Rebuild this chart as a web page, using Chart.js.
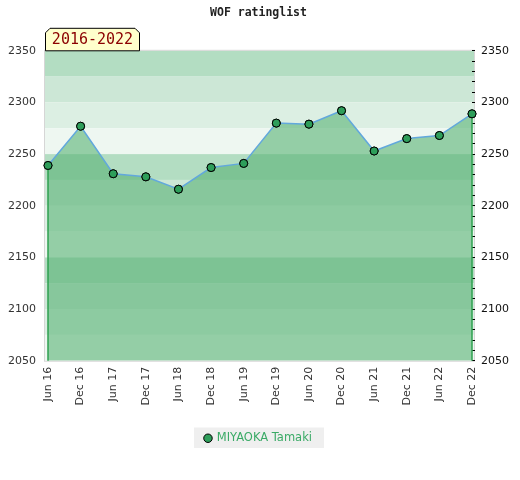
<!DOCTYPE html>
<html>
<head>
<meta charset="utf-8">
<script src="https://cdn.jsdelivr.net/npm/chart.js@4"></script>
<style>
  html, body { margin: 0; padding: 0; background: #fff; }
  #wrap { width: 520px; height: 480px; }
</style>
</head>
<body>
<div id="wrap"><canvas id="ratingChart" width="520" height="480"></canvas></div>
<script>
// data
var periods = ['Jun 16','Dec 16','Jun 17','Dec 17','Jun 18','Dec 18','Jun 19',
               'Dec 19','Jun 20','Dec 20','Jun 21','Dec 21','Jun 22','Dec 22'];
var ratings = [2239, 2277, 2231, 2228, 2216, 2237, 2241,
               2280, 2279, 2292, 2253, 2265, 2268, 2289];
var playerName = 'MIYAOKA Tamaki';
var rangeLabel = '2016-2022';
var yMin = 2050, yMax = 2350, yStep = 50, bandStep = 25;

var bandColors = ['#b3ddc2', '#cce7d6', '#dcefe3', '#eef7f1'];

// background bands, edge lines, legend box and period tag
var decor = {
  id: 'decor',
  beforeDraw: function(chart) {
    var c = chart.ctx, a = chart.chartArea, y = chart.scales.y;
    var l = a.left - 3, r = a.right + 2;
    c.save();
    var i = 0;
    for (var v = yMax; v > yMin; v -= bandStep) {
      var top = y.getPixelForValue(v), bot = y.getPixelForValue(v - bandStep);
      c.fillStyle = bandColors[i % 4];
      c.fillRect(l, top, r - l, bot - top);
      i++;
    }
    c.strokeStyle = '#d6d6d6';
    c.lineWidth = 1;
    c.strokeRect(l - 0.5, a.top - 0.5, r - l + 1, a.bottom - a.top + 1);

    // legend background
    var lg = chart.legend;
    if (lg && lg.legendHitBoxes && lg.legendHitBoxes.length) {
      var hb = lg.legendHitBoxes[0];
      c.fillStyle = '#efefef';
      c.fillRect(hb.left - 11, hb.top - 5, hb.width + 23, hb.height + 9);
    }
    c.restore();
  },
  afterDatasetsDraw: function(chart) {
    var c = chart.ctx, a = chart.chartArea;
    var pts = chart.getDatasetMeta(0).data;
    c.save();
    c.strokeStyle = '#2ea04f';
    c.lineWidth = 1.5;
    [pts[0], pts[pts.length - 1]].forEach(function(p) {
      c.beginPath();
      c.moveTo(p.x, p.y + 4);
      c.lineTo(p.x, a.bottom);
      c.stroke();
    });
    pts.forEach(function(p) { p.draw(c, a); });
    c.restore();
  },
  afterDraw: function(chart) {
    var c = chart.ctx, a = chart.chartArea;
    var x0 = a.left - 3, x1 = x0 + 95, yb = a.top, yt = a.top - 23, k = 5;
    c.save();
    c.beginPath();
    c.moveTo(x0 + 0.5, yb);
    c.lineTo(x0 + 0.5, yt + k);
    c.lineTo(x0 + k, yt + 0.5);
    c.lineTo(x1 - k, yt + 0.5);
    c.lineTo(x1 - 0.5, yt + k);
    c.lineTo(x1 - 0.5, yb);
    c.closePath();
    c.fillStyle = '#ffffcc';
    c.fill();
    c.strokeStyle = '#000';
    c.lineWidth = 1;
    c.stroke();
    c.fillStyle = '#8b0000';
    c.font = '15px "DejaVu Sans Mono", monospace';
    c.textAlign = 'center';
    c.textBaseline = 'middle';
    c.fillText(rangeLabel, (x0 + x1) / 2, (yt + yb) / 2 + 1);
    c.restore();
  }
};

var ctx = document.getElementById('ratingChart');
var chart = new Chart(ctx, {
  type: 'line',
  data: {
    labels: periods,
    datasets: [{
      label: playerName,
      data: ratings,
      borderColor: '#62a8dc',
      borderWidth: 1.5,
      backgroundColor: 'rgba(88,178,116,0.6)',
      fill: 'start',
      tension: 0,
      pointRadius: 4,
      pointHoverRadius: 4,
      pointBackgroundColor: '#2e9e5a',
      pointBorderColor: '#000',
      pointBorderWidth: 1
    }]
  },
  options: {
    responsive: false,
    animation: false,
    layout: { padding: { left: 8, right: 11, bottom: 26, top: 4 } },
    plugins: {
      title: {
        display: true,
        text: 'WOF ratinglist',
        color: '#222',
        font: { family: '"DejaVu Sans Mono", monospace', size: 11.5, weight: 'bold' },
        padding: { top: 2, bottom: 31 }
      },
      legend: {
        position: 'bottom',
        labels: {
          usePointStyle: true,
          pointStyle: 'circle',
          boxWidth: 6,
          boxHeight: 6,
          color: '#3aaa66',
          padding: 21,
          font: { family: '"DejaVu Sans", sans-serif', size: 11.5 }
        }
      },
      tooltip: { enabled: false }
    },
    scales: {
      x: {
        offset: false,
        grid: { display: false, drawTicks: false },
        border: { display: false },
        ticks: {
          minRotation: 90, maxRotation: 90,
          autoSkip: false,
          color: '#333',
          padding: 6,
          font: { family: '"DejaVu Sans", sans-serif', size: 11 }
        }
      },
      y: {
        position: 'left',
        min: yMin, max: yMax,
        grid: { display: false, drawTicks: false },
        border: { display: false },
        afterFit: function(s) { s.width = 40; },
        ticks: {
          stepSize: yStep,
          color: '#333',
          padding: 12,
          font: { family: '"DejaVu Sans", sans-serif', size: 11 },
          callback: function(v) { return String(v); }
        }
      },
      y2: {
        position: 'right',
        min: yMin, max: yMax,
        border: { display: false },
        afterFit: function(s) { s.width = 37; },
        grid: {
          drawOnChartArea: false,
          drawTicks: true,
          tickLength: 3,
          color: '#000'
        },
        ticks: {
          stepSize: 10,
          autoSkip: false,
          color: '#111',
          padding: 6,
          font: { family: '"DejaVu Sans", sans-serif', size: 11 },
          callback: function(v) { return v % yStep === 0 ? String(v) : ''; }
        }
      }
    }
  },
  plugins: [decor]
});
</script>
</body>
</html>
